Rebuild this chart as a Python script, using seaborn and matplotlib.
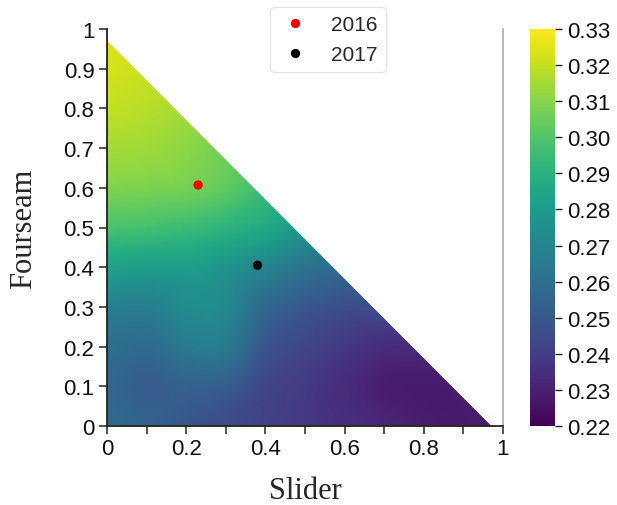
import numpy as np
import pandas as pd
import matplotlib
matplotlib.use("Agg")
import matplotlib.pyplot as plt
import matplotlib.tri as mtri
from matplotlib.patches import Polygon
import seaborn as sns

# ---- data ----
slider_levels = [0.0, 0.1, 0.2, 0.3, 0.4, 0.5, 0.6, 0.7, 0.8, 0.9, 1.0]
fourseam_levels = [0.0, 0.1, 0.2, 0.3, 0.4, 0.5, 0.6, 0.7, 0.8, 0.9, 1.0]
# value rows for each fourseam level (columns: slider levels, only where slider+fourseam <= 1)
row_f00 = [0.259, 0.254, 0.249, 0.245, 0.241, 0.238, 0.235, 0.232, 0.229, 0.228, 0.229]
row_f01 = [0.257, 0.252, 0.254, 0.252, 0.243, 0.239, 0.234, 0.229, 0.228, 0.229]
row_f02 = [0.260, 0.258, 0.265, 0.265, 0.249, 0.243, 0.238, 0.234, 0.234]
row_f03 = [0.268, 0.267, 0.273, 0.272, 0.257, 0.250, 0.246, 0.246]
row_f04 = [0.283, 0.281, 0.281, 0.277, 0.270, 0.262, 0.258]
row_f05 = [0.298, 0.297, 0.295, 0.291, 0.286, 0.278]
row_f06 = [0.309, 0.308, 0.307, 0.303, 0.295]
row_f07 = [0.315, 0.314, 0.311, 0.306]
row_f08 = [0.320, 0.318, 0.315]
row_f09 = [0.323, 0.321]
row_f10 = [0.325]
value_rows = [row_f00, row_f01, row_f02, row_f03, row_f04, row_f05,
              row_f06, row_f07, row_f08, row_f09, row_f10]
max_share = 0.97

years = ["2016", "2017"]
point_slider = [0.23, 0.38]
point_fourseam = [0.607, 0.405]
point_colors = ["#ff0000", "#000000"]

vmin, vmax = 0.22, 0.33
cbar_ticks = [0.22, 0.23, 0.24, 0.25, 0.26, 0.27, 0.28, 0.29, 0.30, 0.31, 0.32, 0.33]
x_ticks = [0.0, 0.1, 0.2, 0.3, 0.4, 0.5, 0.6, 0.7, 0.8, 0.9, 1.0]
x_ticklabels = ["0", "", "0.2", "", "0.4", "", "0.6", "", "0.8", "", "1"]
y_ticks = [0.0, 0.1, 0.2, 0.3, 0.4, 0.5, 0.6, 0.7, 0.8, 0.9, 1.0]
y_ticklabels = ["0", "0.1", "0.2", "0.3", "0.4", "0.5", "0.6", "0.7", "0.8", "0.9", "1"]

# ---- build point table ----
px, py, pv = [], [], []
for fi, row in enumerate(value_rows):
    for si, v in enumerate(row):
        px.append(slider_levels[si])
        py.append(fourseam_levels[fi])
        pv.append(v)
grid = pd.DataFrame({"Slider": px, "Fourseam": py, "value": pv})

sns.set_style("ticks")
plt.rcParams["font.family"] = ["Liberation Sans", "DejaVu Sans"]
serif = ["Liberation Serif", "DejaVu Serif"]

fig = plt.figure(figsize=(6.17, 5.06), dpi=100)
ax = fig.add_axes([107 / 617, 79 / 506, 396 / 617, 397 / 506])
cax = fig.add_axes([530 / 617, 79 / 506, 25 / 617, 397 / 506])

tri = mtri.Triangulation(grid["Slider"].values, grid["Fourseam"].values)
refiner = mtri.UniformTriRefiner(tri)
interp = mtri.CubicTriInterpolator(tri, grid["value"].values, kind="geom")
tri_f, val_f = refiner.refine_field(grid["value"].values, triinterpolator=interp, subdiv=4)
mesh = ax.tripcolor(tri_f, val_f, shading="gouraud",
                    cmap="viridis", vmin=vmin, vmax=vmax, zorder=1)
clip = Polygon([[0, 0], [0, max_share], [max_share, 0]], closed=True,
               transform=ax.transData, facecolor="none", edgecolor="none")
ax.add_patch(clip)
mesh.set_clip_path(clip)

pts = pd.DataFrame({"Slider": point_slider, "Fourseam": point_fourseam, "year": years})
sns.scatterplot(data=pts, x="Slider", y="Fourseam", hue="year",
                palette=dict(zip(years, point_colors)), s=45, linewidth=0,
                ax=ax, zorder=3)

ax.set_xlim(0, 1)
ax.set_ylim(0, 1)
ax.set_xticks(x_ticks)
ax.set_xticklabels(x_ticklabels)
ax.set_yticks(y_ticks)
ax.set_yticklabels(y_ticklabels)
ax.tick_params(axis="both", labelsize=16, length=6, width=1.1, direction="out",
               colors="#222222", labelcolor="#111111", pad=3)
for s in ["left", "bottom"]:
    ax.spines[s].set_color("#222222")
    ax.spines[s].set_linewidth(1.3)
ax.spines["top"].set_visible(False)
ax.spines["right"].set_visible(True)
ax.spines["right"].set_color("#aaaaaa")
ax.spines["right"].set_linewidth(1.2)

ax.set_xlabel("Slider", family=serif, fontsize=22, labelpad=12)
ax.set_ylabel("Fourseam", family=serif, fontsize=22, labelpad=18)

leg = ax.legend(loc="upper center", bbox_to_anchor=(0.558, 1.055), fontsize=15,
                frameon=True, handletextpad=0.9, borderpad=0.4, labelspacing=0.5,
                markerscale=1.0, handlelength=1.6, borderaxespad=0)
leg.get_frame().set_edgecolor("#dddddd")
leg.get_frame().set_linewidth(0.8)

cb = fig.colorbar(mesh, cax=cax, ticks=cbar_ticks)
cb.outline.set_visible(False)
cb.ax.set_yticklabels([f"{t:.2f}" for t in cbar_ticks])
cb.ax.tick_params(labelsize=16, length=5, width=1, colors="#222222", labelcolor="#111111")

fig.savefig("out.png", dpi=100)
